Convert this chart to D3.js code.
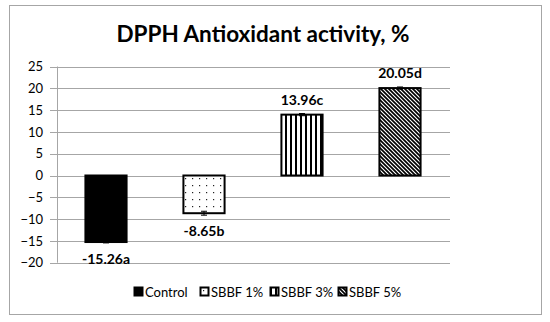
<!DOCTYPE html>
<html><head><meta charset="utf-8">
<script src="https://cdn.jsdelivr.net/npm/d3@7"></script>
<style>body{margin:0;background:#fff}svg{display:block}text{font-family:Lato,"Open Sans",sans-serif}</style>
</head><body><svg id="c" width="550" height="322"></svg>
<script>
const categories = ["Control","SBBF 1%","SBBF 3%","SBBF 5%"];
const values = [-15.26,-8.65,13.96,20.05];
const errors = [0.2,0.45,0.25,0.25];
const letters = ["a","b","c","d"];
const yTicks = [25,20,15,10,5,0,-5,-10,-15,-20];
const patterns = ["solid","dots","vstripes","dstripes"];

const svg = d3.select("#c");
const defs = svg.append("defs");
let p = defs.append("pattern").attr("id","dots").attr("patternUnits","userSpaceOnUse").attr("width",7).attr("height",7);
p.append("rect").attr("width",7).attr("height",7).attr("fill","#fff");
p.append("rect").attr("x",3).attr("y",3).attr("width",1.2).attr("height",1.2).attr("fill","#222");
p = defs.append("pattern").attr("id","vstripes").attr("patternUnits","userSpaceOnUse").attr("width",5).attr("height",5);
p.append("rect").attr("width",5).attr("height",5).attr("fill","#fff");
p.append("rect").attr("x",0).attr("width",2).attr("height",5).attr("fill","#000");
p = defs.append("pattern").attr("id","dstripes").attr("patternUnits","userSpaceOnUse").attr("width",4).attr("height",4);
p.append("rect").attr("width",4).attr("height",4).attr("fill","#fff");
p.append("path").attr("d","M-1,-1 L5,5 M-1,3 L1,5 M3,-1 L5,1").attr("stroke","#000").attr("stroke-width",1.7);
const fillOf = k => k==="solid" ? "#000" : `url(#${k})`;

svg.append("rect").attr("x",9.5).attr("y",5.5).attr("width",532).attr("height",309)
  .attr("fill","#fff").attr("stroke","#a6a6a6").attr("stroke-width",1);

svg.append("text").attr("x",263).attr("y",42).attr("text-anchor","middle")
  .attr("font-size",22.5).attr("font-weight","bold").text("DPPH Antioxidant activity, %");

const left = 57, right = 449;
const y = d3.scaleLinear().domain([-20,25]).range([262.7,66.5]);
const x = d3.scaleBand().domain(categories).range([left,right]).paddingInner(0.58).paddingOuter(0.29);

svg.append("g").selectAll("line").data(yTicks).join("line")
  .attr("x1",left-7).attr("x2",right+1).attr("y1",d=>Math.round(y(d))+0.5).attr("y2",d=>Math.round(y(d))+0.5)
  .attr("stroke","#a6a6a6").attr("stroke-width",1);
svg.append("line").attr("x1",left+0.5).attr("x2",left+0.5).attr("y1",y(25)).attr("y2",y(-20))
  .attr("stroke","#a6a6a6");
const axis = d3.axisLeft(y).tickValues(yTicks).tickSize(0).tickPadding(14);
const ag = svg.append("g").attr("transform",`translate(${left},0)`).call(axis);
ag.select(".domain").remove();
ag.selectAll("text").attr("font-size",13).attr("fill","#000").style("font-family","Lato,sans-serif");

const data = categories.map((c,i)=>({c,v:values[i],e:errors[i],l:letters[i],p:patterns[i]}));
svg.selectAll("rect.bar").data(data).join("rect")
  .attr("x",d=>x(d.c)).attr("width",x.bandwidth())
  .attr("y",d=>y(Math.max(0,d.v))).attr("height",d=>Math.abs(y(d.v)-y(0)))
  .attr("fill",d=>fillOf(d.p)).attr("stroke","#000").attr("stroke-width",2);

const eb = svg.selectAll("g.eb").data(data).join("g");
const cx = d=>x(d.c)+x.bandwidth()/2;
eb.append("line").attr("x1",cx).attr("x2",cx)
  .attr("y1",d=>y(d.v-d.e)).attr("y2",d=>y(d.v+d.e)).attr("stroke","#000").attr("stroke-width",1);
eb.append("line").attr("x1",d=>cx(d)-3).attr("x2",d=>cx(d)+3)
  .attr("y1",d=>y(d.v-d.e)).attr("y2",d=>y(d.v-d.e)).attr("stroke","#000").attr("stroke-width",1);
eb.append("line").attr("x1",d=>cx(d)-3).attr("x2",d=>cx(d)+3)
  .attr("y1",d=>y(d.v+d.e)).attr("y2",d=>y(d.v+d.e)).attr("stroke","#000").attr("stroke-width",1);

svg.selectAll("text.lab").data(data).join("text")
  .attr("x",cx)
  .attr("y",d=>d.v>=0 ? y(d.v+d.e)-9 : y(d.v-d.e)+21)
  .attr("text-anchor","middle").attr("font-size",14).attr("font-weight","bold")
  .text(d=>d.v.toFixed(2)+d.l);

const legX = [134,200,270,338];
const lg = svg.selectAll("g.leg").data(data).join("g").attr("transform",(d,i)=>`translate(${legX[i]},287)`);
lg.append("rect").attr("x",0.5).attr("y",0.5).attr("width",8).attr("height",8)
  .attr("fill",d=>fillOf(d.p)).attr("stroke","#000").attr("stroke-width",2);
lg.append("text").attr("x",11).attr("y",9.5).attr("font-size",13).text(d=>d.c);
</script></body></html>
